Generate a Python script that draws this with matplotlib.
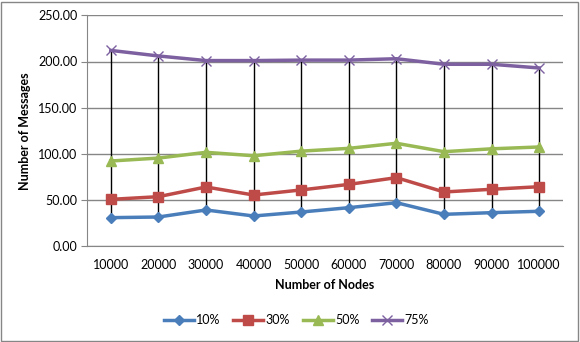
import numpy as np
import matplotlib.pyplot as plt
from matplotlib.patches import Rectangle

plt.rcParams['font.family'] = ['Lato', 'DejaVu Sans']

# data
nodes = ['10000', '20000', '30000', '40000', '50000',
         '60000', '70000', '80000', '90000', '100000']
p10 = [31.0, 31.7, 39.3, 32.8, 37.1, 41.8, 47.2, 34.6, 36.4, 37.9]
p30 = [50.8, 53.7, 64.2, 55.5, 61.0, 67.0, 74.3, 58.8, 61.7, 64.5]
p50 = [92.3, 95.5, 101.7, 98.0, 103.0, 106.0, 111.5, 102.4, 105.5, 107.5]
p75 = [212.0, 206.0, 201.0, 201.0, 201.5, 201.5, 203.0, 197.0, 197.0, 193.0]

series = [('10%', p10, '#4A7EBB', 'D', 5),
          ('30%', p30, '#BE4B48', 's', 7),
          ('50%', p50, '#98B954', '^', 7),
          ('75%', p75, '#7D60A0', 'x', 7)]

fig = plt.figure(figsize=(5.8, 3.42), dpi=100)
ax = fig.add_axes([87/580, 1 - 246.3/342, 476/580, (246.3 - 15.3)/342])

x = np.arange(len(nodes))

# high-low lines
lows = np.min([p10, p30, p50, p75], axis=0)
highs = np.max([p10, p30, p50, p75], axis=0)
ax.vlines(x, lows, highs, color='black', lw=1.0, zorder=2)

for name, vals, col, mk, ms in series:
    ax.plot(x, vals, color=col, lw=2.5, marker=mk, markersize=ms,
            markeredgewidth=1.0, label=name, zorder=3)

ax.set_xlim(-0.5, len(nodes) - 0.5)
ax.set_ylim(0, 250)
ax.set_yticks(np.arange(0, 251, 50))
ax.set_yticklabels(['%.2f' % v for v in np.arange(0, 251, 50)])
ax.set_xticks(x)
ax.set_xticklabels(nodes)
ax.yaxis.grid(True, color='#868686', lw=1.0)
ax.set_axisbelow(True)
for s in ['top', 'right']:
    ax.spines[s].set_visible(False)
ax.spines['left'].set_color('#868686')
ax.spines['bottom'].set_color('#868686')
ax.tick_params(axis='x', length=0, pad=9, labelsize=9)
ax.tick_params(axis='y', length=4, color='#868686', pad=3, labelsize=9)

ax.set_xlabel('Number of Nodes', fontweight='bold', fontsize=9, labelpad=6)
ax.set_ylabel('Number of Messages', fontweight='bold', fontsize=9, labelpad=5)

ax.legend(loc='center', bbox_to_anchor=(0.44, -0.32), ncol=4, frameon=False,
          fontsize=9, handlelength=2.4, columnspacing=1.0, handletextpad=0.2)

fig.patches.append(Rectangle((1/580, 1/342), 577/580, 339/342, transform=fig.transFigure,
                             fill=False, edgecolor='#868686', lw=1.0))

fig.savefig('out.png', dpi=100)
